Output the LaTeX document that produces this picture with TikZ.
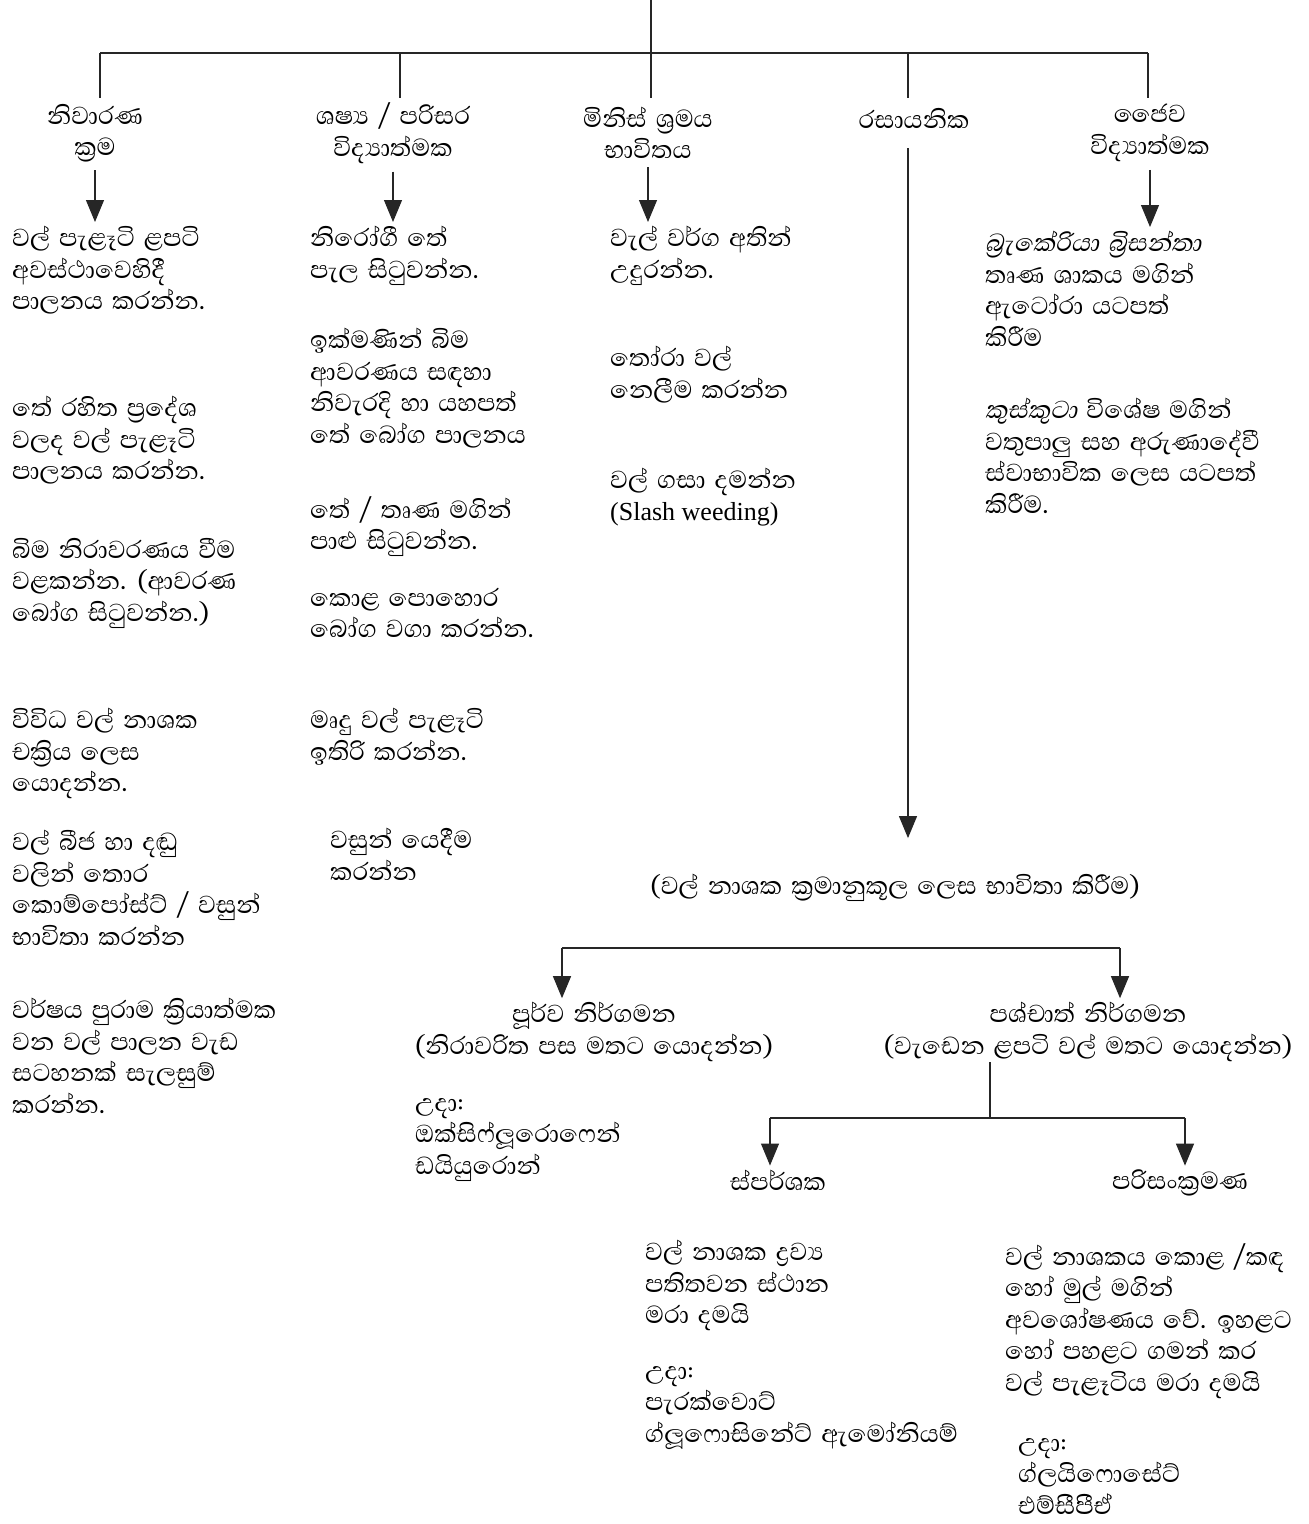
\documentclass[tikz,border=0pt]{standalone}
\usepackage{fontspec}
\usetikzlibrary{arrows.meta}
\newfontfamily\slfont[Script=Sinhala,WordSpace=1.5]{Abhaya Libre}
\newfontfamily\slitfont[Script=Sinhala,WordSpace=1.5,FakeSlant=0.2]{Abhaya Libre}
\newfontfamily\lsfont{Liberation Serif}
\newcommand\slsize{\fontsize{31.5}{31.5}\selectfont}
\tikzset{
  txt/.style={anchor=north west, inner sep=0pt, align=left, yshift=-4pt, font=\slfont\slsize},
  hdr/.style={inner sep=0pt, align=center, font=\slfont\slsize},
  ln/.style={draw=black!85, line width=1.1pt},
  arr/.style={ln, -{Triangle[width=18pt,length=22pt]}},
}
\begin{document}
\begin{tikzpicture}[x=1pt,y=-1pt]
\useasboundingbox[fill=white] (0,0) rectangle (1309,1524);
% headers
\node[hdr] (h1) at (95,133) {නිවාරණ\\ක්‍රම};
\node[hdr] (h2) at (393,133) {ශෂ්‍ය / පරිසර\\විද්‍යාත්මක};
\node[hdr] (h3) at (648,133) {මිනිස් ශ්‍රමය\\භාවිතය};
\node[hdr] (h4) at (914,118) {රසායනික};
\node[hdr] (h5) at (1150,133) {ජෛව\\විද්‍යාත්මක};
% top tree
\coordinate (top) at (651,0);
\coordinate (hub) at (651,53);
\coordinate (hubL) at (100,53);
\coordinate (hubR) at (1148,53);
\draw[ln] (top) -- (hub);
\draw[ln] (hubL) -- (hubR);
\draw[ln] (hubL) -- ++(0,45);
\draw[ln] (400,53) -- ++(0,45);
\draw[ln] (hub) -- ++(0,45);
\draw[ln] (908,53) -- ++(0,45);
\draw[ln] (hubR) -- ++(0,45);
% column 1
\node[txt] (a1) at (12,222) {වල් පැළෑටි ළපටි\\අවස්ථාවෙහිදී\\පාලනය කරන්න.};
\node[txt] (a2) at (12,392) {තේ රහිත ප්‍රදේශ\\වලද වල් පැළෑටි\\පාලනය කරන්න.};
\node[txt] (a3) at (12,534) {බිම නිරාවරණය වීම\\වළකන්න. (ආවරණ\\බෝග සිටුවන්න.)};
\node[txt] (a4) at (12,704) {විවිධ වල් නාශක\\චක්‍රිය ලෙස\\යොදන්න.};
\node[txt] (a5) at (12,826) {වල් බීජ හා දඬු\\වලින් තොර\\කොම්පෝස්ට් / වසුන්\\භාවිතා කරන්න};
\node[txt] (a6) at (12,994) {වර්ෂය පුරාම ක්‍රියාත්මක\\වන වල් පාලන වැඩ\\සටහනක් සැලසුම්\\කරන්න.};
% column 2
\node[txt] (b1) at (310,222) {නිරෝගී තේ\\පැල සිටුවන්න.};
\node[txt] (b2) at (310,324) {ඉක්මණින් බිම\\ආවරණය සඳහා\\නිවැරදි හා යහපත්\\තේ බෝග පාලනය};
\node[txt] (b3) at (310,492) {තේ / තෘණ මගින්\\පාළු සිටුවන්න.};
\node[txt] (b4) at (310,584) {කොළ පොහොර\\බෝග වගා කරන්න.};
\node[txt] (b5) at (310,704) {මෘදු වල් පැළෑටි\\ඉතිරි කරන්න.};
\node[txt] (b6) at (330,824) {වසුන් යෙදීම\\කරන්න};
% column 3
\node[txt] (c1) at (610,222) {වැල් වර්ග අතින්\\උදුරන්න.};
\node[txt] (c2) at (610,342) {තෝරා වල්\\නෙලීම කරන්න};
\node[txt] (c3) at (610,464) {වල් ගසා දමන්න\\{\lsfont\fontsize{26}{31.5}\selectfont (Slash weeding)}};
% column 5
\node[txt] (e1) at (985,227) {{\slitfont බ්‍රැකේරියා බ්‍රිසන්තා}\\තෘණ ශාකය මගින්\\ඇටෝරා යටපත්\\කිරීම};
\node[txt] (e2) at (985,394) {{\slitfont කුස්කුටා} විශේෂ මගින්\\වතුපාලු සහ අරුණාදේවී\\ස්වාභාවික ලෙස යටපත්\\කිරීම.};
% arrows from headers
\draw[arr, shorten <=8pt, shorten >=4pt] (h1.south) -- (h1.south |- a1.north);
\draw[arr, shorten <=8pt, shorten >=4pt] (h2.south) -- (h2.south |- b1.north);
\draw[arr, shorten <=8pt, shorten >=4pt] (h3.south) -- (h3.south |- c1.north);
\draw[arr, shorten <=8pt, shorten >=4pt] (h5.south) -- (h5.south |- e1.north);
% chemical branch
\node[hdr] (k0) at (895,888) {(වල් නාශක ක්‍රමානුකූල ලෙස භාවිතා කිරීම)};
\coordinate (chx) at (908,0);
\draw[arr, shorten <=20pt, shorten >=36pt] (h4.south -| chx) -- (k0.north -| chx);
\node[hdr] (k1) at (594,1032) {පූර්ව නිර්ගමන\\(නිරාවරිත පස මතට යොදන්න)};
\node[hdr] (k2) at (1088,1032) {පශ්චාත් නිර්ගමන\\(වැඩෙන ළපටි වල් මතට යොදන්න)};
\coordinate (mL) at (562,948);
\coordinate (mR) at (1120,948);
\draw[ln] (mL) -- (mR);
\draw[arr, shorten >=4pt] (mL) -- (mL |- k1.north);
\draw[arr, shorten >=4pt] (mR) -- (mR |- k2.north);
\node[txt] (k1x) at (415,1094) {උදා:\\ඔක්සිෆ්ලූරොෆෙන්\\ඩයියුරොන්};
\node[hdr] (k3) at (778,1180) {ස්පර්ශක};
\node[hdr] (k4) at (1180,1183) {පරිසංක්‍රමණ};
\coordinate (sT) at (990,1062);
\coordinate (sB) at (990,1118);
\coordinate (sL) at (770,1118);
\coordinate (sR) at (1185,1118);
\draw[ln] (sT) -- (sB);
\draw[ln] (sL) -- (sR);
\draw[arr, shorten >=4pt] (sL) -- (sL |- k3.north);
\draw[arr, shorten >=4pt] (sR) -- (sR |- k4.north);
\node[txt] (k3t) at (645,1236) {වල් නාශක ද්‍රව්‍ය\\පතිතවන ස්ථාන\\මරා දමයි};
\node[txt] (k3x) at (645,1362) {උදා:\\පැරක්වොට්\\ග්ලූෆොසිනේට් ඇමෝනියම්};
\node[txt] (k4t) at (1005,1239) {වල් නාශකය කොළ /කඳ\\හෝ මුල් මගින්\\අවශෝෂණය වේ. ඉහළට\\හෝ පහළට ගමන් කර\\වල් පැළෑටිය මරා දමයි};
\node[txt] (k4x) at (1018,1434) {උදා:\\ග්ලයිෆොසේට්\\එම්සීපීඒ};
\end{tikzpicture}
\end{document}
